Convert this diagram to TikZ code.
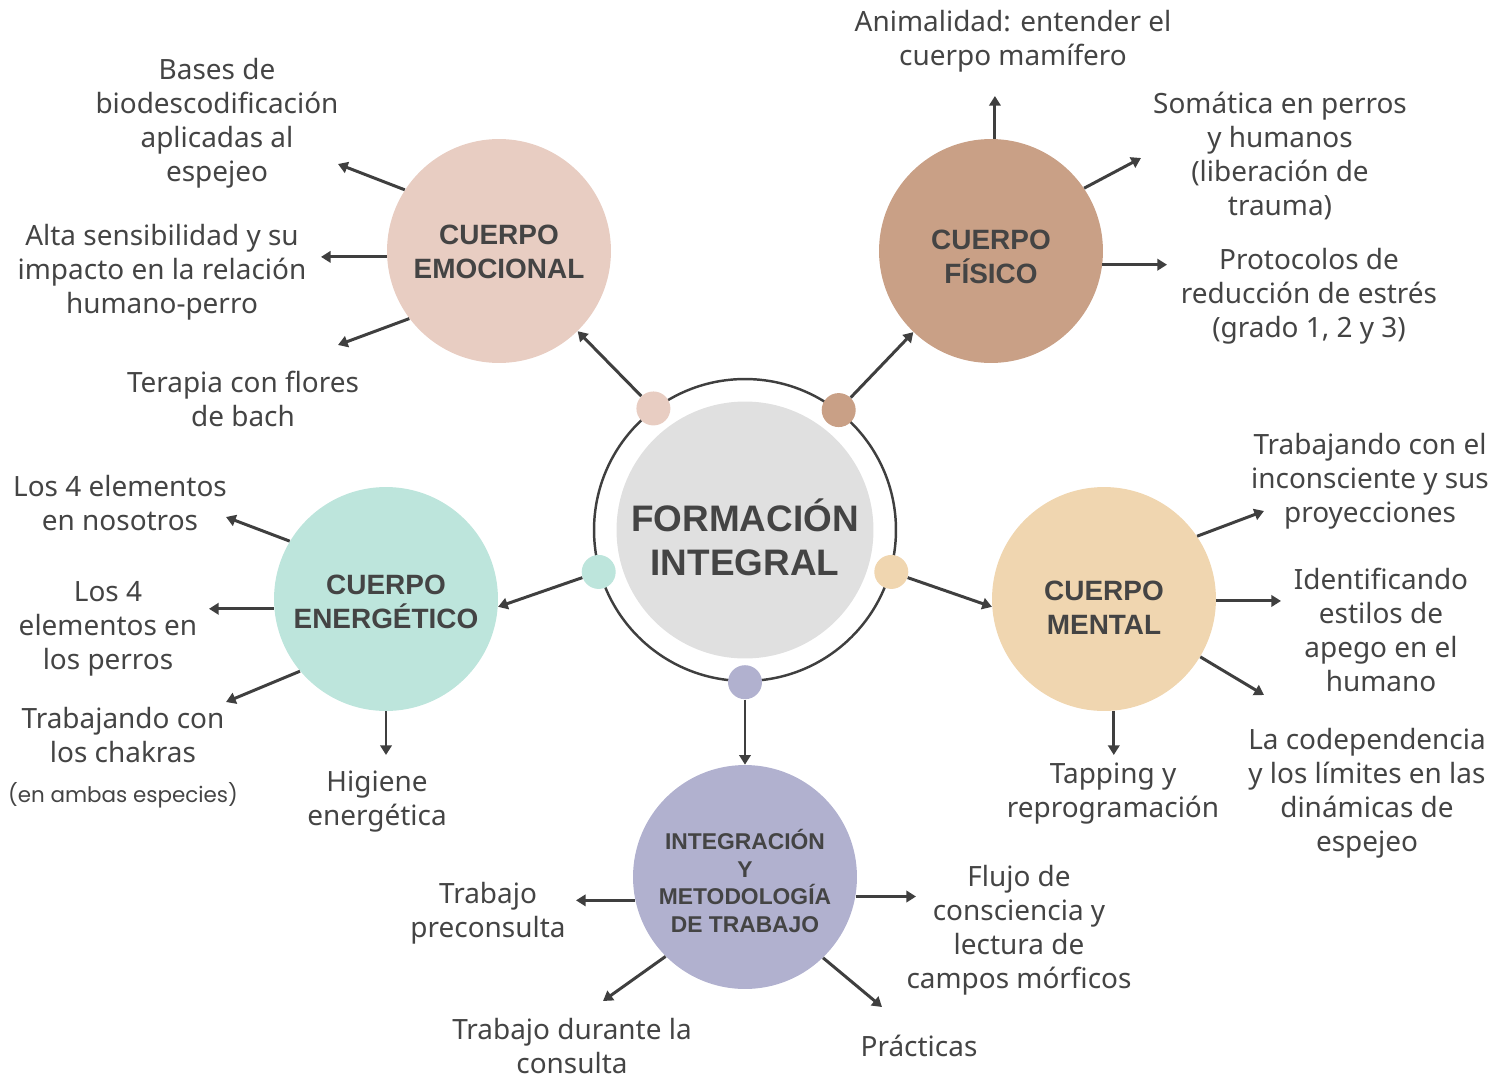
\documentclass[tikz,border=0pt]{standalone}
\usepackage{fontspec}
\setmainfont{Noto Sans}
\newfontfamily\headfont{Liberation Sans}
\newfontfamily\notefont{Poppins}
\usetikzlibrary{arrows.meta}
\definecolor{txtcol}{HTML}{444444}
\definecolor{linecol}{HTML}{3F3F3F}
\definecolor{centcol}{HTML}{E0E0E0}
\definecolor{emocol}{HTML}{E8CDC2}
\definecolor{fiscol}{HTML}{C9A086}
\definecolor{enecol}{HTML}{BDE5DC}
\definecolor{mencol}{HTML}{F0D6B0}
\definecolor{intcol}{HTML}{B1B1CF}

\begin{document}
\begin{tikzpicture}[x=0.02cm,y=-0.02cm,
    every node/.style={text=txtcol},
    body/.style={align=center,font=\fontsize{15.9}{19.35}\selectfont},
    body circle/.style={circle,minimum size=4.48cm,inner sep=0pt},
    head/.style={align=center,font=\headfont\bfseries\fontsize{15.9}{19.35}\selectfont},
    dot/.style={circle,minimum size=0.68cm,inner sep=0pt},
    arr/.style={draw=linecol,line width=1.7pt,-{Triangle[width=6.5pt,length=5.5pt]}}]
\useasboundingbox (0,0) rectangle (1509,1076);

% centro
\node[circle,draw=linecol,line width=1.4pt,minimum size=6.04cm,inner sep=0pt] (ring) at (745,530) {};
\node[circle,fill=centcol,minimum size=5.14cm,inner sep=0pt] (core) at (745,530) {};
\node[head,font=\headfont\bfseries\fontsize{21}{25}\selectfont] (core-t) at (745,537) {FORMACIÓN\\INTEGRAL};
\node[dot,fill=emocol] (demo) at (ring.127.8) {};
\node[dot,fill=fiscol] (dfis) at (ring.52.2) {};
\node[dot,fill=enecol] (dene) at (ring.196.2) {};
\node[dot,fill=mencol] (dmen) at (ring.-16.2) {};
\node[dot,fill=intcol] (dint) at (ring.270) {};

% cuerpos
\node[body circle,fill=emocol] (emo) at (499,251) {};
\node[body circle,fill=fiscol] (fis) at (991,251) {};
\node[body circle,fill=enecol] (ene) at (386,599) {};
\node[body circle,fill=mencol] (men) at (1104,599) {};
\node[body circle,fill=intcol] (intg) at (745,877) {};
\node[head] (emo-t) at (499,252) {CUERPO\\EMOCIONAL};
\node[head] (fis-t) at (991,257) {CUERPO\\FÍSICO};
\node[head] (ene-t) at (386,602) {CUERPO\\ENERGÉTICO};
\node[head] (men-t) at (1104,608) {CUERPO\\MENTAL};
\node[head,font=\headfont\bfseries\fontsize{13}{15.9}\selectfont] (intg-t) at (745,881)
    {INTEGRACIÓN\\Y\\METODOLOGÍA\\DE TRABAJO};

\draw[arr] (demo) -- (emo);
\draw[arr] (dfis) -- (fis);
\draw[arr] (dene) -- (ene.-4);
\draw[arr] (dmen) -- (men.184);
\draw[arr] (dint) -- (intg);

% textos
\node[body] (bases) at (217,123) {Bases de\\biodescodificación\\aplicadas al\\espejeo};
\node[body] (alta) at (162,272) {Alta sensibilidad y su\\impacto en la relación\\humano-perro};
\node[body] (flores) at (243,399) {Terapia con flores\\de bach};
\node[body] (animal) at (1013,41) {Animalidad: entender el\\cuerpo mamífero};
\node[body] (somat) at (1280,156) {Somática en perros\\y humanos\\(liberación de\\trauma)};
\node[body] (protoc) at (1309,296) {Protocolos de\\reducción de estrés\\(grado 1, 2 y 3)};
\node[body] (nosotros) at (120,503) {Los 4 elementos\\en nosotros};
\node[body] (perros) at (108,629) {Los 4\\elementos en\\los perros};
\node[body] (chakras) at (123,735) {Trabajando con\\los chakras};
\node[font=\notefont\fontsize{12.2}{14}\selectfont] (ambas) at (123,795) {(en ambas especies)};
\node[body] (higiene) at (377,802) {Higiene\\energética};
\node[body] (incons) at (1370,481) {Trabajando con el\\inconsciente y sus\\proyecciones};
\node[body] (apego) at (1381,630) {Identificando\\estilos de\\apego en el\\humano};
\node[body] (codep) at (1367,793) {La codependencia\\y los límites en las\\dinámicas de\\espejeo};
\node[body] (tapping) at (1113,794) {Tapping y\\reprogramación};
\node[body] (precons) at (488,913) {Trabajo\\preconsulta};
\node[body] (flujo) at (1019,930) {Flujo de\\consciencia y\\lectura de\\campos mórficos};
\node[body] (durante) at (572,1046) {Trabajo durante la\\consulta};
\node[body] (practicas) at (919,1046) {Prácticas};

% puntas de flecha
\coordinate (to-bases) at (338,164);
\coordinate (to-alta) at (emo.183 -| 321,0);
\coordinate (to-flores) at (338,345);
\coordinate (to-animal) at (fis.88.5 |- 0,96);
\coordinate (to-somat) at (1141,158);
\coordinate (to-protoc) at (fis.-7 -| 1167,0);
\coordinate (to-nosotros) at (226,517);
\coordinate (to-perros) at (ene.185.6 -| 209,0);
\coordinate (to-chakras) at (226,702);
\coordinate (to-higiene) at (ene.270.5 |- 0,755);
\coordinate (to-incons) at (1264,511);
\coordinate (to-apego) at (men.-1.5 -| 1281,0);
\coordinate (to-codep) at (1264,695);
\coordinate (to-tapping) at (men.275 |- 0,755);
\coordinate (to-precons) at (intg.192 -| 576,0);
\coordinate (to-flujo) at (intg.-10.7 -| 916,0);
\coordinate (to-durante) at (603,1001);
\coordinate (to-practicas) at (882,1007);

\draw[arr] (emo.147) -- (to-bases);
\draw[arr] (emo.183) -- (to-alta);
\draw[arr] (emo.217.5) -- (to-flores);
\draw[arr] (fis.88.5) -- (to-animal);
\draw[arr] (fis.34.5) -- (to-somat);
\draw[arr] (fis.-7) -- (to-protoc);
\draw[arr] (ene.149.4) -- (to-nosotros);
\draw[arr] (ene.185.6) -- (to-perros);
\draw[arr] (ene.220.8) -- (to-chakras);
\draw[arr] (ene.270.5) -- (to-higiene);
\draw[arr] (men.34.5) -- (to-incons);
\draw[arr] (men.-1.5) -- (to-apego);
\draw[arr] (men.-31.9) -- (to-codep);
\draw[arr] (men.275) -- (to-tapping);
\draw[arr] (intg.192) -- (to-precons);
\draw[arr] (intg.-10.7) -- (to-flujo);
\draw[arr] (intg.225) -- (to-durante);
\draw[arr] (intg.-46) -- (to-practicas);
\end{tikzpicture}
\end{document}
